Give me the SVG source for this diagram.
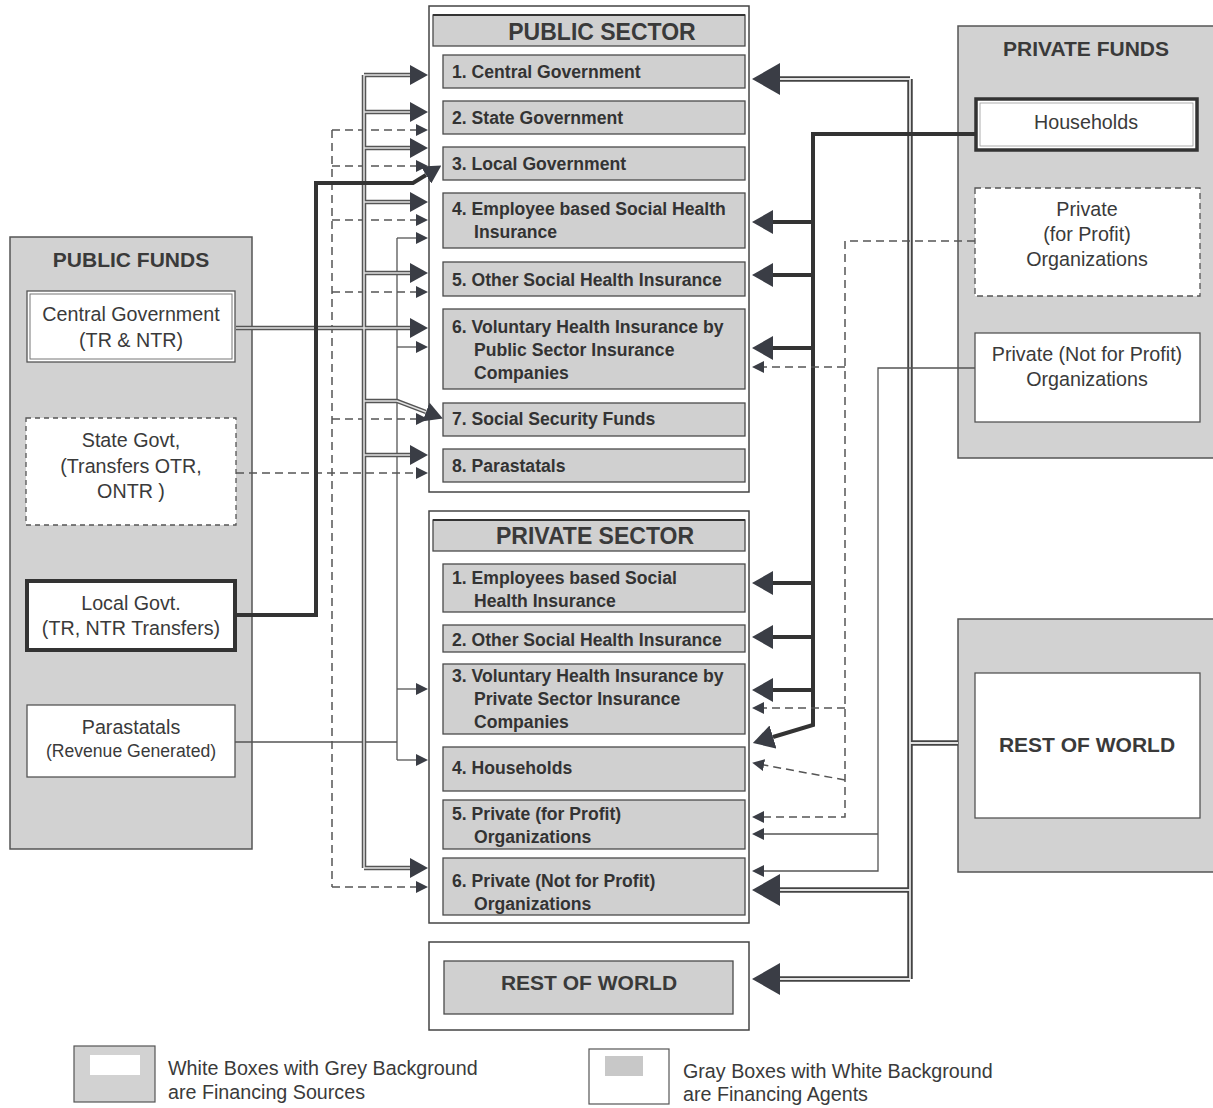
<svg xmlns="http://www.w3.org/2000/svg" width="1213" height="1108" viewBox="0 0 1213 1108">
  <style>
    .bg { fill: #d2d2d2; stroke: #555; stroke-width: 1.5; }
    .panel { fill: #ffffff; stroke: #444; stroke-width: 1.5; }
    .item { fill: #d0d0d0; stroke: #4a4a4a; stroke-width: 1.3; }
    .src { fill: #ffffff; stroke: #555; stroke-width: 1.3; }
    .head { font-family: "Liberation Sans", Arial, sans-serif; font-weight: bold; fill: #3a3a3a; text-anchor: middle; }
    .lbl { font-family: "Liberation Sans", Arial, sans-serif; font-weight: bold; font-size: 17.6px; fill: #333; }
    .txt { font-family: "Liberation Sans", Arial, sans-serif; font-size: 19.7px; fill: #3a3a3a; text-anchor: middle; }
    .sub { font-size: 17.6px; }
    .leg { font-family: "Liberation Sans", Arial, sans-serif; font-size: 19.7px; fill: #3a3a3a; }
    .thin { fill: none; stroke: #555; stroke-width: 1.3; }
    .dash { fill: none; stroke: #555; stroke-width: 1.5; stroke-dasharray: 8 5; }
    .dblo { fill: none; stroke: #555; stroke-width: 4.5; }
    .dbli { fill: none; stroke: #e2e2e2; stroke-width: 1.5; }
    .wdo { fill: none; stroke: #444; stroke-width: 5.5; }
    .wdi { fill: none; stroke: #e2e2e2; stroke-width: 1.8; }
    .heavy { fill: none; stroke: #333; stroke-width: 4; }
  </style>
  <defs>
    <marker id="aS" viewBox="0 -6 12 12" refX="0" refY="0" markerWidth="12" markerHeight="12" markerUnits="userSpaceOnUse" orient="auto">
      <path d="M0,-6 L12,0 L0,6 Z" fill="#3a3d45"/>
    </marker>
    <marker id="aL" viewBox="0 -10 18 20" refX="0" refY="0" markerWidth="18" markerHeight="20" markerUnits="userSpaceOnUse" orient="auto">
      <path d="M0,-10 L18,0 L0,10 Z" fill="#3a3d45"/>
    </marker>
    <marker id="aM" viewBox="0 -12 21 24" refX="0" refY="0" markerWidth="21" markerHeight="24" markerUnits="userSpaceOnUse" orient="auto">
      <path d="M0,-12 L21,0 L0,12 Z" fill="#3a3d45"/>
    </marker>
    <marker id="aXL" viewBox="0 -16 28 32" refX="0" refY="0" markerWidth="28" markerHeight="32" markerUnits="userSpaceOnUse" orient="auto">
      <path d="M0,-16 L28,0 L0,16 Z" fill="#3a3d45"/>
    </marker>
  </defs>

  <!-- Public funds (sources) -->
  <g id="public-funds">
    <rect class="bg" x="10" y="237" width="242" height="612"/>
    <text class="head" x="131" y="267" font-size="21">PUBLIC FUNDS</text>
  </g>
  <g id="pf-central">
    <rect class="src" x="27" y="291" width="208" height="71"/>
    <rect x="30" y="294" width="202" height="65" fill="none" stroke="#777" stroke-width="1"/>
    <text class="txt" x="131" y="321">Central Government</text>
    <text class="txt" x="131" y="347">(TR &amp; NTR)</text>
  </g>
  <g id="pf-state">
    <rect x="26" y="418" width="210" height="107" fill="#fff" stroke="#555" stroke-width="1.3" stroke-dasharray="5 4"/>
    <text class="txt" x="131" y="447">State Govt,</text>
    <text class="txt" x="131" y="473">(Transfers OTR,</text>
    <text class="txt" x="131" y="498">ONTR )</text>
  </g>
  <g id="pf-local">
    <rect x="27" y="581" width="208" height="69" fill="#fff" stroke="#333" stroke-width="4"/>
    <text class="txt" x="131" y="610">Local Govt.</text>
    <text class="txt" x="131" y="635">(TR, NTR Transfers)</text>
  </g>
  <g id="pf-parastatals">
    <rect class="src" x="27" y="705" width="208" height="72"/>
    <text class="txt" x="131" y="734">Parastatals</text>
    <text class="txt sub" x="131" y="757">(Revenue Generated)</text>
  </g>

  <!-- Public sector (agents) -->
  <g id="public-sector">
    <rect class="panel" x="429" y="6" width="320" height="486"/>
    <rect class="item" x="433" y="15" width="312" height="31" stroke-width="1.5"/>
    <line x1="433" y1="15" x2="745" y2="15" stroke="#333" stroke-width="2"/>
    <text class="head" x="602" y="40" font-size="23">PUBLIC SECTOR</text>
  </g>
  <g id="ps-1"><rect class="item" x="443" y="55" width="302" height="33"/><text class="lbl" x="452" y="78">1. Central Government</text></g>
  <g id="ps-2"><rect class="item" x="443" y="101" width="302" height="33"/><text class="lbl" x="452" y="124">2. State Government</text></g>
  <g id="ps-3"><rect class="item" x="443" y="147" width="302" height="33"/><text class="lbl" x="452" y="170">3. Local Government</text></g>
  <g id="ps-4"><rect class="item" x="443" y="193" width="302" height="55"/><text class="lbl" x="452" y="215">4. Employee based Social Health</text><text class="lbl" x="474" y="238">Insurance</text></g>
  <g id="ps-5"><rect class="item" x="443" y="262" width="302" height="34"/><text class="lbl" x="452" y="286">5. Other Social Health Insurance</text></g>
  <g id="ps-6"><rect class="item" x="443" y="309" width="302" height="80"/><text class="lbl" x="452" y="333">6. Voluntary Health Insurance by</text><text class="lbl" x="474" y="356">Public Sector Insurance</text><text class="lbl" x="474" y="379">Companies</text></g>
  <g id="ps-7"><rect class="item" x="443" y="403" width="302" height="33"/><text class="lbl" x="452" y="425">7. Social Security Funds</text></g>
  <g id="ps-8"><rect class="item" x="443" y="449" width="302" height="33"/><text class="lbl" x="452" y="472">8. Parastatals</text></g>

  <!-- Private sector (agents) -->
  <g id="private-sector">
    <rect class="panel" x="429" y="511" width="320" height="412"/>
    <rect class="item" x="433" y="520" width="312" height="31" stroke-width="1.5"/>
    <line x1="433" y1="520" x2="745" y2="520" stroke="#333" stroke-width="2"/>
    <text class="head" x="595" y="544" font-size="23">PRIVATE SECTOR</text>
  </g>
  <g id="pv-1"><rect class="item" x="443" y="564" width="302" height="48"/><text class="lbl" x="452" y="584">1. Employees based Social</text><text class="lbl" x="474" y="607">Health Insurance</text></g>
  <g id="pv-2"><rect class="item" x="443" y="625" width="302" height="27"/><text class="lbl" x="452" y="646">2. Other Social Health Insurance</text></g>
  <g id="pv-3"><rect class="item" x="443" y="664" width="302" height="70"/><text class="lbl" x="452" y="682">3. Voluntary Health Insurance by</text><text class="lbl" x="474" y="705">Private Sector Insurance</text><text class="lbl" x="474" y="728">Companies</text></g>
  <g id="pv-4"><rect class="item" x="443" y="747" width="302" height="44"/><text class="lbl" x="452" y="774">4. Households</text></g>
  <g id="pv-5"><rect class="item" x="443" y="800" width="302" height="49"/><text class="lbl" x="452" y="820">5. Private (for Profit)</text><text class="lbl" x="474" y="843">Organizations</text></g>
  <g id="pv-6"><rect class="item" x="443" y="858" width="302" height="57"/><text class="lbl" x="452" y="887">6.  Private (Not for Profit)</text><text class="lbl" x="474" y="910">Organizations</text></g>

  <!-- Rest of world (agent) -->
  <g id="row-agent">
    <rect class="panel" x="429" y="942" width="320" height="88"/>
    <rect class="item" x="444" y="961" width="289" height="53" stroke-width="1.5"/>
    <text class="head" x="589" y="990" font-size="21">REST OF WORLD</text>
  </g>

  <!-- Private funds (sources) -->
  <g id="private-funds">
    <rect class="bg" x="958" y="26" width="258" height="432"/>
    <text class="head" x="1086" y="56" font-size="21">PRIVATE FUNDS</text>
  </g>
  <g id="pf-households">
    <rect x="976" y="99" width="221" height="51" fill="#fff" stroke="#333" stroke-width="3.5"/>
    <rect x="980" y="103" width="213" height="43" fill="none" stroke="#999" stroke-width="0.8"/>
    <text class="txt" x="1086" y="129">Households</text>
  </g>
  <g id="pf-profit">
    <rect x="975" y="188" width="225" height="108" fill="#fff" stroke="#555" stroke-width="1.3" stroke-dasharray="6 4"/>
    <text class="txt" x="1087" y="216">Private</text>
    <text class="txt" x="1087" y="241">(for Profit)</text>
    <text class="txt" x="1087" y="266">Organizations</text>
  </g>
  <g id="pf-nonprofit">
    <rect class="src" x="975" y="333" width="225" height="89"/>
    <text class="txt" x="1087" y="361">Private (Not for Profit)</text>
    <text class="txt" x="1087" y="386">Organizations</text>
  </g>

  <!-- Rest of world (source) -->
  <g id="row-source">
    <rect class="bg" x="958" y="619" width="258" height="253"/>
    <rect class="src" x="975" y="673" width="225" height="145"/>
    <text class="head" x="1087" y="752" font-size="21">REST OF WORLD</text>
  </g>

  <!-- Flows -->
  <g id="connectors">
    <!-- state govt transfers (dashed) -->
    <path class="dash" d="M332,130 V887"/>
    <path class="dash" d="M332,130 H416" marker-end="url(#aS)"/>
    <path class="dash" d="M332,166 H416" marker-end="url(#aS)"/>
    <path class="dash" d="M332,220 H416" marker-end="url(#aS)"/>
    <path class="dash" d="M332,292 H416" marker-end="url(#aS)"/>
    <path class="dash" d="M332,419 H416" marker-end="url(#aS)"/>
    <path class="dash" d="M236,473 H416" marker-end="url(#aS)"/>
    <path class="dash" d="M332,887 H416" marker-end="url(#aS)"/>

    <!-- parastatals revenue (thin) -->
    <path class="thin" d="M235,742 H397"/>
    <path class="thin" d="M397,238 V760"/>
    <path class="thin" d="M397,238 H416" marker-end="url(#aS)"/>
    <path class="thin" d="M397,347 H416" marker-end="url(#aS)"/>
    <path class="thin" d="M397,689 H416" marker-end="url(#aS)"/>
    <path class="thin" d="M397,760 H416" marker-end="url(#aS)"/>

    <!-- central govt (double line) -->
    <path class="dblo" d="M364,75 V868"/>
    <path class="dblo" d="M364,75 H410" marker-end="url(#aL)"/>
    <path class="dblo" d="M364,112 H410" marker-end="url(#aL)"/>
    <path class="dblo" d="M364,148 H410" marker-end="url(#aL)"/>
    <path class="dblo" d="M364,202 H410" marker-end="url(#aL)"/>
    <path class="dblo" d="M364,273 H410" marker-end="url(#aL)"/>
    <path class="dblo" d="M236,328 H410" marker-end="url(#aL)"/>
    <path class="dblo" d="M364,401 H397 L426,412" marker-end="url(#aL)"/>
    <path class="dblo" d="M364,455 H410" marker-end="url(#aL)"/>
    <path class="dblo" d="M364,868 H410" marker-end="url(#aL)"/>
    <path class="dbli" d="M364,75 V868 M364,75 H410 M364,112 H410 M364,148 H410 M364,202 H410 M364,273 H410 M236,328 H410 M364,401 H397 L426,412 M364,455 H410 M364,868 H410"/>

    <!-- local govt (heavy) -->
    <path class="heavy" d="M237,615 H316 V183 H413 L426,175" marker-end="url(#aL)"/>

    <!-- rest of world (wide double line) -->
    <path class="wdo" d="M958,743 H910"/>
    <path class="wdo" d="M910,79 V979"/>
    <path class="wdo" d="M910,79 H780" marker-end="url(#aXL)"/>
    <path class="wdo" d="M910,890 H780" marker-end="url(#aXL)"/>
    <path class="wdo" d="M910,979 H780" marker-end="url(#aXL)"/>
    <path class="wdi" d="M958,743 H910 M910,79 V979 M910,79 H780 M910,890 H780 M910,979 H780"/>

    <!-- households (heavy) -->
    <path class="heavy" d="M975,134 H813 V725 L773,737" marker-end="url(#aM)"/>
    <path class="heavy" d="M813,222 H773" marker-end="url(#aM)"/>
    <path class="heavy" d="M813,275 H773" marker-end="url(#aM)"/>
    <path class="heavy" d="M813,348 H773" marker-end="url(#aM)"/>
    <path class="heavy" d="M813,583 H773" marker-end="url(#aM)"/>
    <path class="heavy" d="M813,637 H773" marker-end="url(#aM)"/>
    <path class="heavy" d="M813,690 H773" marker-end="url(#aM)"/>

    <!-- private for-profit organisations (dashed) -->
    <path class="dash" d="M975,241 H845 V817 H764" marker-end="url(#aS)"/>
    <path class="dash" d="M845,367 H764" marker-end="url(#aS)"/>
    <path class="dash" d="M845,708 H764" marker-end="url(#aS)"/>
    <path class="dash" d="M845,780 L764,765" marker-end="url(#aS)"/>

    <!-- private not-for-profit organisations (thin) -->
    <path class="thin" d="M975,368 H878 V871 H764" marker-end="url(#aS)"/>
    <path class="thin" d="M878,834 H764" marker-end="url(#aS)"/>
  </g>

  <!-- Legend -->
  <g id="legend-sources">
    <rect x="74" y="1046" width="81" height="56" fill="#d2d2d2" stroke="#555" stroke-width="1.2"/>
    <rect x="90" y="1055" width="50" height="20" fill="#fff"/>
    <text class="leg" x="168" y="1075">White Boxes with Grey Background</text>
    <text class="leg" x="168" y="1099">are Financing Sources</text>
  </g>
  <g id="legend-agents">
    <rect x="589" y="1049" width="80" height="55" fill="#fff" stroke="#555" stroke-width="1.2"/>
    <rect x="605" y="1056" width="38" height="20" fill="#c8c8c8"/>
    <text class="leg" x="683" y="1078">Gray Boxes with White Background</text>
    <text class="leg" x="683" y="1101">are Financing Agents</text>
  </g>
</svg>
